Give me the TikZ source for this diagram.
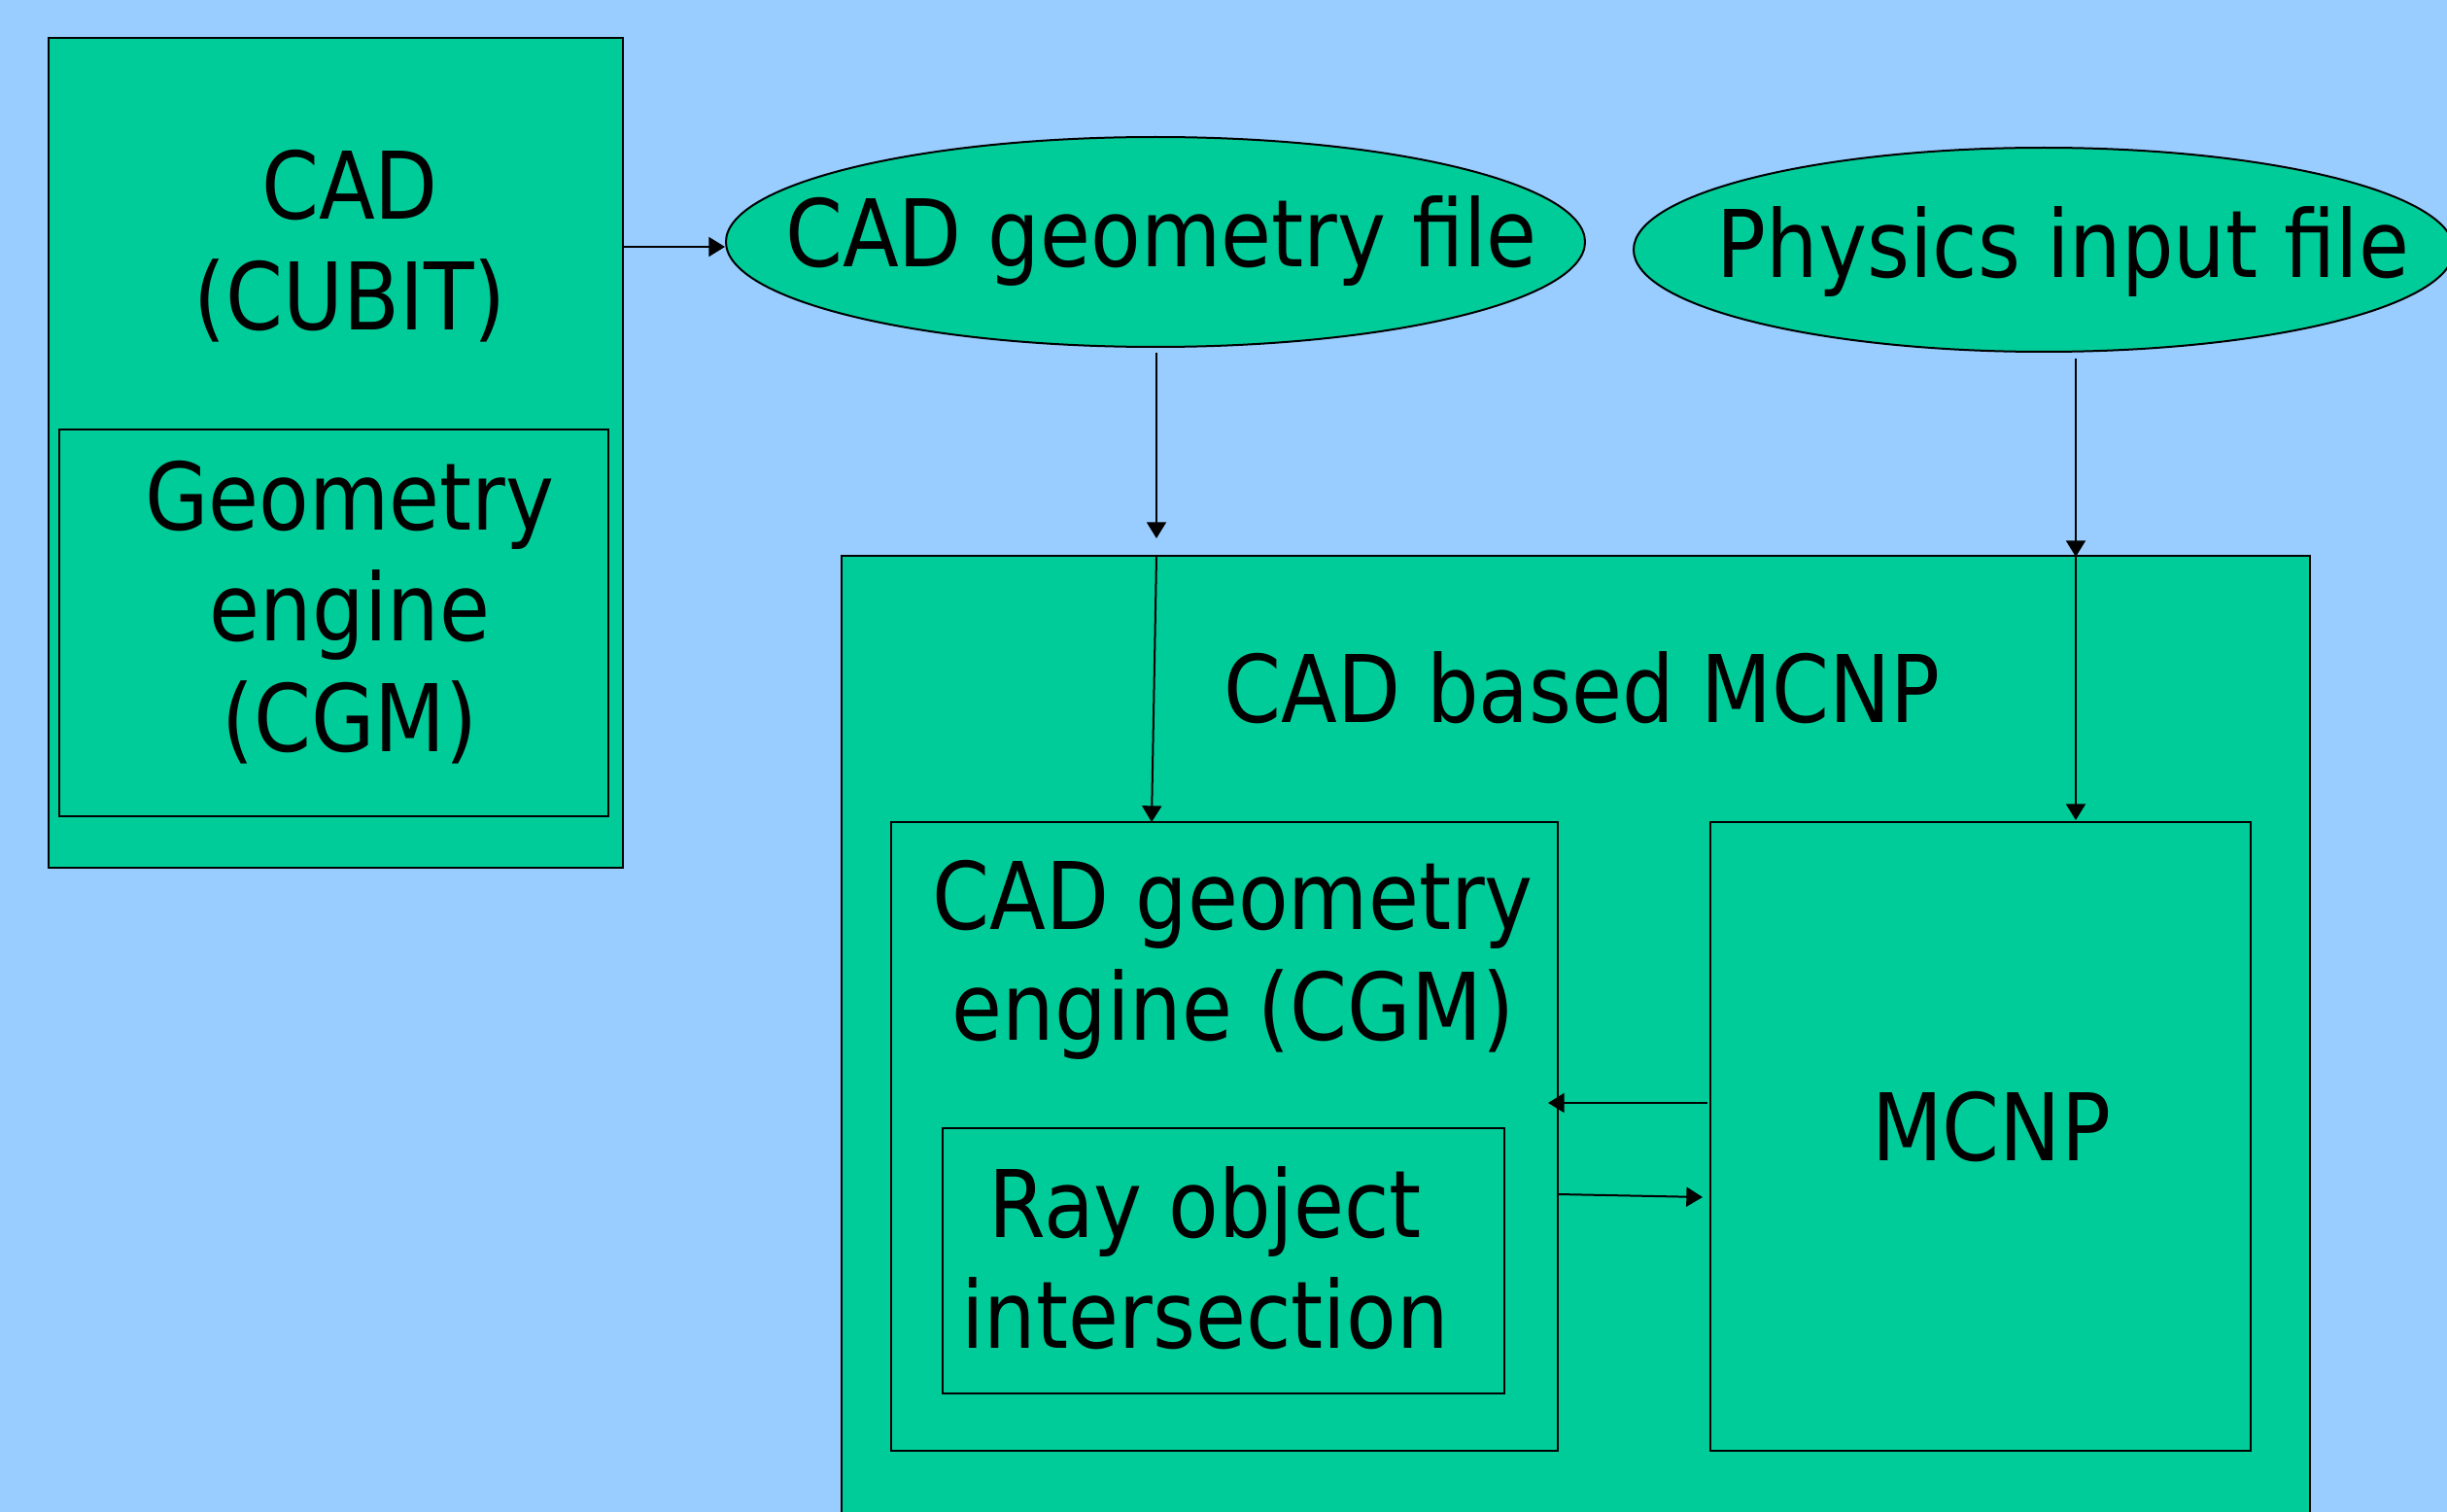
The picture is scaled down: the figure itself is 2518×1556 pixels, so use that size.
\documentclass[tikz,border=0pt]{standalone}
\usepackage{fontspec}
\setmainfont{DejaVu Sans}[FakeStretch=0.88]
\usetikzlibrary{arrows.meta,shapes.geometric}
\definecolor{bgblue}{HTML}{99CCFF}
\definecolor{boxgreen}{HTML}{00CC99}
\tikzset{
  box/.style={draw=black, fill=boxgreen, line width=0.55pt, rectangle, inner sep=0pt},
  oval/.style={draw=black, fill=boxgreen, line width=0.6pt, ellipse, inner sep=0pt},
  lbl/.style={font=\fontsize{28.8}{34.2}\selectfont, align=center, inner sep=0pt, text=black},
  conn/.style={draw=black, line width=0.6pt, -{Triangle[length=5pt,width=6pt]}},
  plain/.style={draw=black, line width=0.6pt}
}
\begin{document}
\begin{tikzpicture}[x=0.3pt,y=-0.3pt]
\useasboundingbox (0,0) rectangle (2518,1556);
\fill[bgblue] (0,0) rectangle (2518,1556);
\begin{scope}
\clip (0,0) rectangle (2518,1556);
% left CAD box
\node[box, minimum width=177.3pt, minimum height=256.2pt] (cadbox) at (345.5,466) {};
\node[box, minimum width=169.5pt, minimum height=119.4pt] (geobox) at (343.5,641) {};
\node[lbl] (cadtxt) at (360,253) {CAD\\(CUBIT)};
\node[lbl] (geotxt) at (360,630) {Geometry\\engine\\(CGM)};
% ellipses
\node[oval, minimum width=265.2pt, minimum height=64.8pt] (ell1) at (1189,249) {};
\node[lbl] (ell1txt) at (1195,248) {CAD geometry file};
\node[oval, minimum width=253.2pt, minimum height=63pt] (ell2) at (2103,257) {};
\node[lbl] (ell2txt) at (2123,259) {Physics input file};
% big box
\node[box, minimum width=453.3pt, minimum height=308.4pt] (bigbox) at (1621.5,1086) {};
\node[lbl] (bigtxt) at (1628,708) {CAD based MCNP};
\node[box, minimum width=205.8pt, minimum height=194.1pt] (cgmbox) at (1260,1169.5) {};
\node[lbl] (cgmtxt) at (1269,988) {CAD geometry\\engine (CGM)};
\node[box, minimum width=173.4pt, minimum height=81.9pt] (raybox) at (1259,1297.5) {};
\node[lbl] (raytxt) at (1240,1295) {Ray object\\intersection};
\node[box, minimum width=166.8pt, minimum height=194.1pt] (mcnpbox) at (2038,1169.5) {};
\node[lbl] (mcnptxt) at (2049,1160) {MCNP};
% connector coordinates
\coordinate (e1out) at (1190,363);
\coordinate (e1in) at (1190,554);
\coordinate (bigtopL) at (1190,573);
\coordinate (cgmtop) at (1185,846);
\coordinate (e2out) at (2136,369);
\coordinate (bigtopR) at (2136,573);
\coordinate (mcnptop) at (2136,844);
\coordinate (mcL1) at (1757,1135);
\coordinate (cgR1) at (1593,1135);
\coordinate (cgR2) at (1603,1229);
\coordinate (mcL2) at (1752,1232);
% connectors
\draw[conn] (cadbox.east |- 0,254) -- (ell1.west |- 0,254);
\draw[conn] (e1out) -- (e1in);
\draw[conn] (bigtopL) -- (cgmtop);
\draw[conn] (e2out) -- (bigtopR);
\draw[conn] (bigtopR) -- (mcnptop);
\draw[conn] (mcL1) -- (cgR1);
\draw[conn] (cgR2) -- (mcL2);
\end{scope}
\end{tikzpicture}
\end{document}
